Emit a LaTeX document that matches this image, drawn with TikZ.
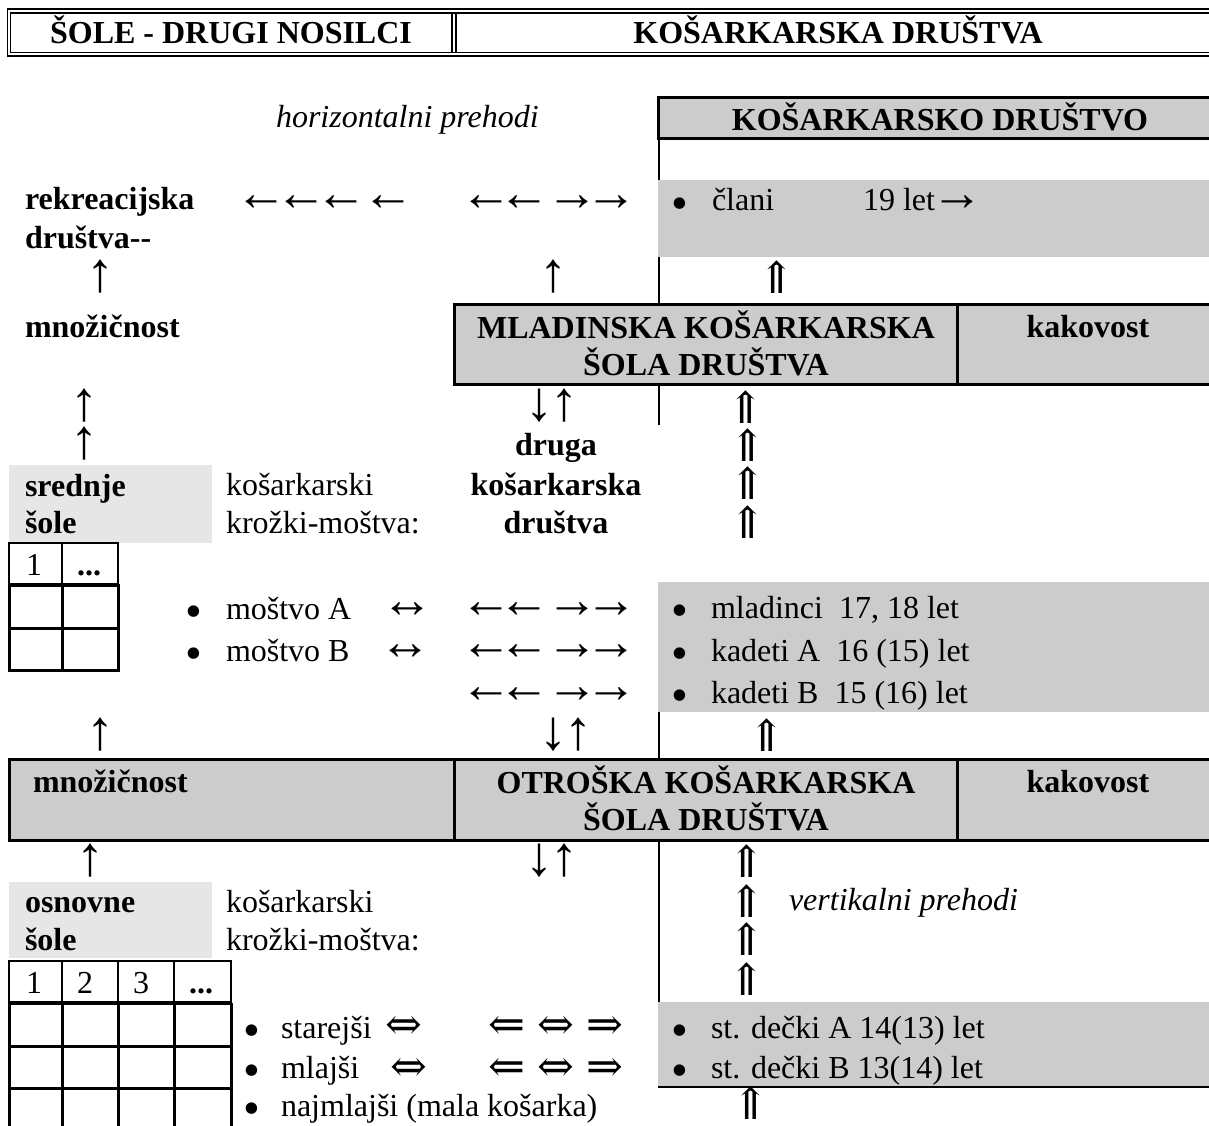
\documentclass[tikz,border=0pt]{standalone}
\usepackage{fontspec}
\setmainfont{Liberation Serif}
\newfontfamily\dbl{DejaVu Serif}
\newcommand\fs{\fontsize{32}{38}\selectfont}
\newcommand\arfs{\fontsize{52}{60}\selectfont}
\definecolor{gA}{HTML}{CCCCCC}
\definecolor{gB}{HTML}{E6E6E6}
\begin{document}
\begin{tikzpicture}[x=1pt,y=-1pt,
  tx/.style={inner sep=0pt,outer sep=0pt,anchor=base west,font=\fs},
  tb/.style={tx,font=\fs\bfseries},
  ti/.style={tx,font=\fs\itshape},
  tcb/.style={inner sep=0pt,outer sep=0pt,anchor=base,font=\fs\bfseries},
  bul/.style={inner sep=0pt,anchor=base,font=\fontsize{48}{52}\selectfont},
  ar/.style={inner sep=0pt,anchor=center,font=\arfs},
  var/.style={inner sep=0pt,anchor=center,font=\fontsize{56}{60}\selectfont},
  dar/.style={inner sep=0pt,anchor=center,font=\fontsize{44}{48}\selectfont\dbl},
  boxline/.style={line width=3pt},
  thinline/.style={line width=2pt},
  hdr/.style={line width=1.7pt}]
\useasboundingbox (0,0) rectangle (1209,1126);
\fill[white] (0,0) rectangle (1209,1126);

% ---------- header ----------
\draw[hdr] (1215,9.2) -- (7.5,9.2) -- (7.5,56) -- (1215,56);
\draw[hdr] (1215,12.8) -- (10.5,12.8) -- (10.5,52.5) -- (1215,52.5);
\draw[hdr] (452,12.8) -- (452,52.5);
\draw[hdr] (456,12.8) -- (456,52.5);
\node[tcb] (h1) at (231,44) {ŠOLE - DRUGI NOSILCI};
\node[tcb] (h2) at (838,44) {KOŠARKARSKA DRUŠTVA};

% ---------- gray bands ----------
\fill[gA] (658,180) rectangle (1215,257);
\fill[gA] (658,582) rectangle (1215,712);
\fill[gA] (658,1002) rectangle (1215,1087);
\draw[thinline] (658,1087) -- (1215,1087);
\fill[gB] (9,465) rectangle (212,543);
\fill[gB] (9,882) rectangle (212,958);

% ---------- boxes ----------
\draw[boxline,fill=gA] (658.5,97.5) rectangle (1215,139);
\node[tcb] (kd) at (940,131) {KOŠARKARSKO DRUŠTVO};

\draw[boxline,fill=gA] (454.5,304) rectangle (1215,384);
\draw[boxline] (957,304) -- (957,384);
\node[tcb] (ml1) at (706,338) {MLADINSKA KOŠARKARSKA};
\node[tcb] (ml2) at (706,375) {ŠOLA DRUŠTVA};
\node[tcb] (kak1) at (1088,337) {kakovost};

\draw[boxline,fill=gA] (9.5,759) rectangle (1215,840);
\draw[boxline] (454.5,759) -- (454.5,840);
\draw[boxline] (957,759) -- (957,840);
\node[tb] (mn2) at (33,792) {množičnost};
\node[tcb] (ot1) at (706,793) {OTROŠKA KOŠARKARSKA};
\node[tcb] (ot2) at (706,830) {ŠOLA DRUŠTVA};
\node[tcb] (kak2) at (1088,792) {kakovost};

% ---------- vertical thin line ----------
\draw[thinline] (659,139) -- (659,180);
\draw[thinline] (659,257) -- (659,304);
\draw[thinline] (659,384) -- (659,425);
\draw[thinline] (659,712) -- (659,759);
\draw[thinline] (659,840) -- (659,1002);

% ---------- tables ----------
\draw[line width=1.6pt] (9,543) rectangle (118,584);
\draw[line width=1.6pt] (62,543) -- (62,584);
\node[tx] (s1) at (26,575) {1};
\node[tb] (s2) at (77,575) {...};
\draw[boxline] (9,585) rectangle (118,670);
\draw[boxline] (9,628) -- (118,628);
\draw[boxline] (62,585) -- (62,670);

\draw[line width=1.6pt] (9,961) rectangle (231,1002);
\foreach \xx in {62,118,174} \draw[line width=1.6pt] (\xx,961) -- (\xx,1002);
\node[tx] (o1) at (26,993) {1};
\node[tx] (o2) at (77,993) {2};
\node[tx] (o3) at (133,993) {3};
\node[tb] (o4) at (189,993) {...};
\draw[boxline] (9,1003) -- (231,1003);
\draw[boxline] (9,1046) -- (231,1046);
\draw[boxline] (9,1088) -- (231,1088);
\foreach \xx in {9,62,118,174,231} \draw[boxline] (\xx,1003) -- (\xx,1130);

% ---------- texts ----------
\node[ti] (hp) at (276,128) {horizontalni prehodi};
\node[tb] (rk1) at (25,209) {rekreacijska};
\node[tb] (rk2) at (25,248) {društva-{}-};
\node[tb] (mn1) at (25,337) {množičnost};
\node[tb] (sr1) at (25,496) {srednje};
\node[tb] (sr2) at (25,533) {šole};
\node[tx] (kk1) at (226,495) {košarkarski};
\node[tx] (kk2) at (226,533) {krožki-moštva:};
\node[tcb] (dr1) at (556,455) {druga};
\node[tcb] (dr2) at (556,495) {košarkarska};
\node[tcb] (dr3) at (556,533) {društva};
\node[tb] (os1) at (25,912) {osnovne};
\node[tb] (os2) at (25,950) {šole};
\node[tx] (kk3) at (226,912) {košarkarski};
\node[tx] (kk4) at (226,950) {krožki-moštva:};
\node[ti] (vp) at (789,910) {vertikalni prehodi};

% bullets and items
\node[bul] (b1) at (680,219) {•};
\node[tx] (cl) at (712,211) {člani};
\node[tx] (cl2) at (863,211) {19 let};
\node[ar] (cl3) at (957,203) {→};
\node[bul] (b2) at (194,627) {•};
\node[tx] (mA) at (226,619) {moštvo A};
\node[bul] (b3) at (194,669) {•};
\node[tx] (mB) at (226,661) {moštvo B};
\node[bul] (b4) at (680,626) {•};
\node[tx] (mlad) at (711,618) {mladinci~~17, 18 let};
\node[bul] (b5) at (680,669) {•};
\node[tx] (kA) at (711,661) {kadeti A~~16 (15) let};
\node[bul] (b6) at (680,711) {•};
\node[tx] (kB) at (711,703) {kadeti B~~15 (16) let};
\node[bul] (b7) at (252,1046) {•};
\node[tx] (st) at (281,1038) {starejši};
\node[bul] (b8) at (252,1086) {•};
\node[tx] (mj) at (281,1078) {mlajši};
\node[bul] (b9) at (252,1124) {•};
\node[tx] (nm) at (281,1116) {najmlajši (mala košarka)};
\node[bul] (b10) at (680,1046) {•};
\node[tx] (sdA) at (711,1038) {st. dečki A 14(13) let};
\node[bul] (b11) at (680,1086) {•};
\node[tx] (sdB) at (711,1078) {st. dečki B 13(14) let};

% ---------- arrows (glyphs) ----------
\foreach \xx [count=\i] in {261,301,341,388} \node[ar] (la\i) at (\xx,203) {←};
\foreach \yy [count=\j] in {203,610,652,695} {
  \node[ar] (ra\j a) at (486,\yy) {←};
  \node[ar] (ra\j b) at (524,\yy) {←};
  \node[ar] (ra\j c) at (572,\yy) {→};
  \node[ar] (ra\j d) at (611,\yy) {→};
}
\node[var] (u1) at (100,277) {↑};
\node[var] (u2) at (553,277) {↑};
\node[var] (u3) at (84,406) {↑};
\node[var] (u4) at (84,444) {↑};
\node[var] (u5) at (100,735) {↑};
\node[var] (u6) at (90,861) {↑};
\node[var] (du1) at (552,406) {↓\kern-3pt↑};
\node[var] (du2) at (566,735) {↓\kern-3pt↑};
\node[var] (du3) at (552,861) {↓\kern-3pt↑};
\node[ar] (lr1) at (407,610) {↔};
\node[ar] (lr2) at (405,652) {↔};

\node[dar] (U1) at (777,277) {⇑};
\node[dar] (U2) at (746,407) {⇑};
\node[dar] (U3) at (748,445) {⇑};
\node[dar] (U4) at (748,483) {⇑};
\node[dar] (U5) at (748,522) {⇑};
\node[dar] (U6) at (767,735) {⇑};
\node[dar] (U7) at (747,861) {⇑};
\node[dar] (U8) at (747,901) {⇑};
\node[dar] (U9) at (747,939) {⇑};
\node[dar] (U10) at (747,979) {⇑};
\node[dar] (U11) at (751,1103) {⇑};
\node[dar] (D1) at (404,1028) {⇔};
\node[dar] (D2) at (409,1070) {⇔};
\foreach \yy [count=\k] in {1028,1070} {
  \node[dar] (DL\k) at (507,\yy) {⇐};
  \node[dar] (DM\k) at (556,\yy) {⇔};
  \node[dar] (DR\k) at (605,\yy) {⇒};
}
\end{tikzpicture}
\end{document}
